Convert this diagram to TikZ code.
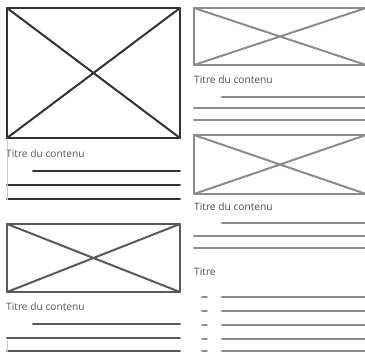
\documentclass[tikz,border=0pt]{standalone}
\usepackage{fontspec}
\setmainfont{Open Sans}
\begin{document}
\begin{tikzpicture}[x=1pt,y=-1pt,
  sk/.style={line width=2pt,line cap=round,line join=round},
  dark/.style={sk,draw=black!80},
  mid/.style={sk,draw=black!65},
  light/.style={sk,draw=black!45},
  ttl/.style={anchor=base west,inner sep=0pt,font=\fontsize{10.2}{12}\selectfont},
  faint/.style={line width=0.5pt,draw=black!20}]
\useasboundingbox (0,0) rectangle (365,352);
\clip (0,0) rectangle (365,352);
% left column, top block
\draw[dark] (7,8) rectangle (180,138);
\draw[dark] (7,8) -- (180,138) (180,8) -- (7,138);
\node[ttl,text=black!65] (t1) at (6,158) {Titre du contenu};
\draw[dark] (33,171) -- (180,171);
\draw[dark] (7,185) -- (180,185);
\draw[dark] (7,199) -- (180,199);
\draw[faint] (7,140) -- (7,200);
% left column, bottom block
\draw[mid] (7,224) rectangle (180,292);
\draw[mid] (7,224) -- (180,292) (180,224) -- (7,292);
\node[ttl,text=black!65] (t3) at (6,311) {Titre du contenu};
\draw[mid] (33,324) -- (180,324);
\draw[mid] (7,338) -- (180,338);
\draw[mid] (7,351) -- (180,351);
\draw[faint] (7,340) -- (7,352);
% right column, block 1
\draw[light] (194,8) rectangle (366,65);
\draw[light] (194,8) -- (366,65) (366,8) -- (194,65);
\node[ttl,text=black!70] (t2) at (194,84) {Titre du contenu};
\draw[light] (222,97) -- (366,97);
\draw[light] (194,108) -- (366,108);
\draw[light] (194,120) -- (366,120);
% right column, block 2
\draw[light] (194,135) rectangle (366,194);
\draw[light] (194,135) -- (366,194) (366,135) -- (194,194);
\node[ttl,text=black!70] (t4) at (194,211) {Titre du contenu};
\draw[light] (222,223) -- (366,223);
\draw[light] (194,236) -- (366,236);
\draw[light] (194,248) -- (366,248);
% right column, list
\node[ttl,text=black!70] (t5) at (194,276) {Titre};
\foreach \yy in {297,311,325,339,351}{
  \draw[light,line width=1.4pt] (202,\yy) -- (207,\yy);
  \draw[light] (222,\yy) -- (366,\yy);
}
\end{tikzpicture}
\end{document}
